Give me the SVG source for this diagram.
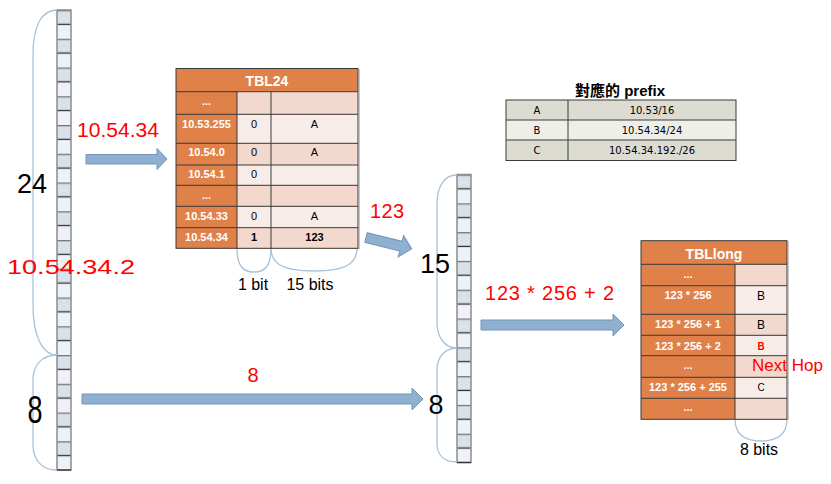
<svg xmlns="http://www.w3.org/2000/svg" width="831" height="484" viewBox="0 0 831 484">
<defs>
<pattern id="barL" patternUnits="userSpaceOnUse" x="57" y="10" width="14" height="28.75">
<rect x="0" y="0" width="14" height="14.375" fill="#d9e1ec"/>
<rect x="0" y="14.375" width="14" height="14.375" fill="#eef2f7"/>
<rect x="0" y="0" width="14" height="1.3" fill="#777"/>
<rect x="0" y="13.7" width="14" height="1.3" fill="#333"/>
</pattern>
<pattern id="barM" patternUnits="userSpaceOnUse" x="457" y="174.5" width="14" height="28.8">
<rect x="0" y="0" width="14" height="14.4" fill="#d9e1ec"/>
<rect x="0" y="14.4" width="14" height="14.4" fill="#eef2f7"/>
<rect x="0" y="0" width="14" height="1.3" fill="#777"/>
<rect x="0" y="13.7" width="14" height="1.3" fill="#333"/>
</pattern>
</defs>
<style>
.brace{fill:none;stroke:#a9c2da;stroke-width:1.3}
.arrow{fill:#8fb0d0;stroke:#7394b6;stroke-width:1}
.or{fill:#df8149}
.pd{fill:#f2d8cd}
.pl{fill:#f8ece8}
.grid{stroke:#3a3a3a;stroke-width:1;fill:none}
.wt{font-family:"Liberation Sans",Arial,sans-serif;font-weight:bold;fill:#fff;font-size:11px;text-anchor:middle}
.ttl{font-size:14px}
.bt{font-family:"Liberation Sans",Arial,sans-serif;fill:#000;font-size:11px;text-anchor:middle}
.b12{font-size:12px}
.b10{font-size:10px}
.bold{font-weight:bold}
.rb{fill:#ff0000;font-weight:bold;font-size:10px}
.red{font-family:"Liberation Sans",Arial,sans-serif;fill:#ff0000;font-size:20px}
.nh{font-size:17px}
.big{font-family:"Liberation Sans",Arial,sans-serif;fill:#000;font-size:27px;text-anchor:middle}
.lbl{font-family:"Liberation Sans",Arial,sans-serif;fill:#000;font-size:16px;text-anchor:middle}
.pt{font-family:"DejaVu Sans","Liberation Sans",sans-serif;fill:#000;font-size:10px;text-anchor:middle}
</style>

<g id="bar-left">
<rect x="57" y="10" width="14" height="460" fill="url(#barL)"/>
<rect x="57" y="10" width="14" height="460" fill="none" stroke="#8c8c8c" stroke-width="1.5"/>
<line x1="57" y1="470" x2="71" y2="470" stroke="#333" stroke-width="1.3"/>
</g>

<g id="bar-mid">
<rect x="457" y="174.5" width="14" height="288" fill="url(#barM)"/>
<rect x="457" y="174.5" width="14" height="288" fill="none" stroke="#8c8c8c" stroke-width="1.5"/>
<line x1="457" y1="462.5" x2="471" y2="462.5" stroke="#333" stroke-width="1.3"/>
</g>

<g id="braces">
<path class="brace" d="M57,10 C42,10 33,25 33,55 L33,305 C33,335 42,355 57,355"/>
<path class="brace" d="M57,355 C42,355 33,365 33,380 L33,445 C33,460 42,470 57,470"/>
<path class="brace" d="M457,175 C443,175 437,188 437,205 L437,322 C437,338 445,348 457,348"/>
<path class="brace" d="M457,348 C444,348 437,358 437,370 L437,443 C437,455 444,462 457,462"/>
<path class="brace" d="M237,248 C237,266 243,272 254,272 C265,272 271,266 271,248"/>
<path class="brace" d="M271,248 C271,264 283,271 314,271 C345,271 357,264 357,248"/>
<path class="brace" d="M735,419 C735,435 746,441 761,441 C776,441 787,435 787,419"/>
</g>

<g id="tbl24">
<rect class="or" x="176" y="68.5" width="182" height="180"/>
<rect class="pd" x="237" y="91.7" width="121" height="22.6"/>
<rect class="pl" x="237" y="114.3" width="121" height="29"/>
<rect class="pd" x="237" y="143.3" width="121" height="21.7"/>
<rect class="pl" x="237" y="165" width="121" height="20.3"/>
<rect class="pd" x="237" y="185.3" width="121" height="21"/>
<rect class="pl" x="237" y="206.3" width="121" height="21.4"/>
<rect class="pd" x="237" y="227.7" width="121" height="20.6"/>
<path class="grid" d="M176,91.7H358M176,114.3H358M176,143.3H358M176,165H358M176,185.3H358M176,206.3H358M176,227.7H358M237,91.7V248.3M271,91.7V248.3"/>
<rect x="176" y="68.5" width="182" height="179.8" fill="none" stroke="#3a3a3a" stroke-width="1"/>
<line x1="358.8" y1="69" x2="358.8" y2="249" stroke="#9a9a9a" stroke-width="1.5"/>
<text class="wt ttl" x="267" y="86">TBL24</text>
<text class="wt" x="206.5" y="105">...</text>
<text class="wt" x="206.5" y="128">10.53.255</text>
<text class="bt" x="254" y="128">0</text>
<text class="bt" x="314.5" y="128">A</text>
<text class="wt" x="206.5" y="156">10.54.0</text>
<text class="bt" x="254" y="156">0</text>
<text class="bt" x="314.5" y="156">A</text>
<text class="wt" x="206.5" y="177.5">10.54.1</text>
<text class="bt" x="254" y="177.5">0</text>
<text class="wt" x="206.5" y="198.5">...</text>
<text class="wt" x="206.5" y="219.5">10.54.33</text>
<text class="bt" x="254" y="219.5">0</text>
<text class="bt" x="314.5" y="219.5">A</text>
<text class="wt" x="206.5" y="240.5">10.54.34</text>
<text class="bt bold" x="254" y="240.5">1</text>
<text class="bt bold" x="314.5" y="240.5">123</text>
</g>

<g id="prefix-table">
<text x="620" y="96" font-family="'Liberation Sans','Noto Sans CJK TC',sans-serif" font-size="15" font-weight="bold" text-anchor="middle" fill="#000">對應的 prefix</text>
<rect x="506" y="100" width="230" height="20" fill="#dddcd3"/>
<rect x="506" y="120" width="230" height="20" fill="#efefe9"/>
<rect x="506" y="140" width="230" height="20.5" fill="#dddcd3"/>
<path class="grid" d="M506,120H736M506,140H736M568,100V160.5"/>
<rect x="506" y="100" width="230" height="60.5" fill="none" stroke="#3a3a3a" stroke-width="1"/>
<text class="pt" x="537" y="114">A</text>
<text class="pt" x="652" y="114">10.53/16</text>
<text class="pt" x="537" y="134">B</text>
<text class="pt" x="652" y="134">10.54.34/24</text>
<text class="pt" x="537" y="154">C</text>
<text class="pt" x="652" y="154">10.54.34.192./26</text>
</g>

<g id="tbllong">
<rect class="or" x="641" y="240.7" width="146" height="178.6"/>
<rect class="pd" x="735" y="264.3" width="52" height="21.4"/>
<rect class="pl" x="735" y="285.7" width="52" height="28.6"/>
<rect class="pd" x="735" y="314.3" width="52" height="21"/>
<rect class="pl" x="735" y="335.3" width="52" height="20.4"/>
<rect class="pd" x="735" y="355.7" width="52" height="21.6"/>
<rect class="pl" x="735" y="377.3" width="52" height="21"/>
<rect class="pd" x="735" y="398.3" width="52" height="21"/>
<path class="grid" d="M641,264.3H787M641,285.7H787M641,314.3H787M641,335.3H787M641,355.7H787M641,377.3H787M641,398.3H787M735,264.3V419.3"/>
<rect x="641" y="240.7" width="146" height="178.6" fill="none" stroke="#3a3a3a" stroke-width="1"/>
<line x1="787.8" y1="241" x2="787.8" y2="420" stroke="#9a9a9a" stroke-width="1.5"/>
<text class="wt ttl" x="714" y="259">TBLlong</text>
<text class="wt" x="688" y="278">...</text>
<text class="wt" x="688" y="299">123 * 256</text>
<text class="bt b12" x="761" y="300">B</text>
<text class="wt" x="688" y="328">123 * 256 + 1</text>
<text class="bt b12" x="761" y="329">B</text>
<text class="wt" x="688" y="349.5">123 * 256 + 2</text>
<text class="bt rb" x="761" y="349.5">B</text>
<text class="wt" x="688" y="368.5">...</text>
<text class="wt" x="688" y="390.5">123 * 256 + 255</text>
<text class="bt b10" x="761" y="390.5">C</text>
<text class="wt" x="688" y="411">...</text>
</g>

<g id="connectors">
<path class="arrow" d="M86,154.5 L157,154.5 L157,148.5 L167,159 L157,169.5 L157,164 L86,164 Z"/>
<path class="arrow" d="M82,394 L412,394 L412,388 L423,399 L412,410 L412,404 L82,404 Z"/>
<path class="arrow" d="M481,320 L613,320 L613,314 L624,325 L613,336 L613,330 L481,330 Z"/>
<path class="arrow" transform="translate(366,237.5) rotate(14)" d="M0,-5 L36,-5 L36,-11 L47,0 L36,11 L36,5 L0,5 Z"/>
</g>

<g id="labels">
<text class="big" x="32" y="193">24</text>
<text class="big" transform="translate(35,423) scale(1,1.45)" x="0" y="0">8</text>
<text class="big" x="435" y="272.7">15</text>
<text class="big" x="436" y="414">8</text>
<text class="red" x="77" y="137" textLength="82" lengthAdjust="spacingAndGlyphs">10.54.34</text>
<text class="red" x="7" y="274.3" textLength="128" lengthAdjust="spacingAndGlyphs">10.54.34.2</text>
<text class="red" x="370" y="218" textLength="34">123</text>
<text class="red" x="485" y="300" textLength="129">123 * 256 + 2</text>
<text class="red" x="253" y="382" text-anchor="middle">8</text>
<text class="red nh" x="752" y="371">Next Hop</text>
<text class="lbl" x="253" y="290">1 bit</text>
<text class="lbl" x="310" y="290">15 bits</text>
<text class="lbl" x="759" y="455">8 bits</text>
</g>
</svg>
